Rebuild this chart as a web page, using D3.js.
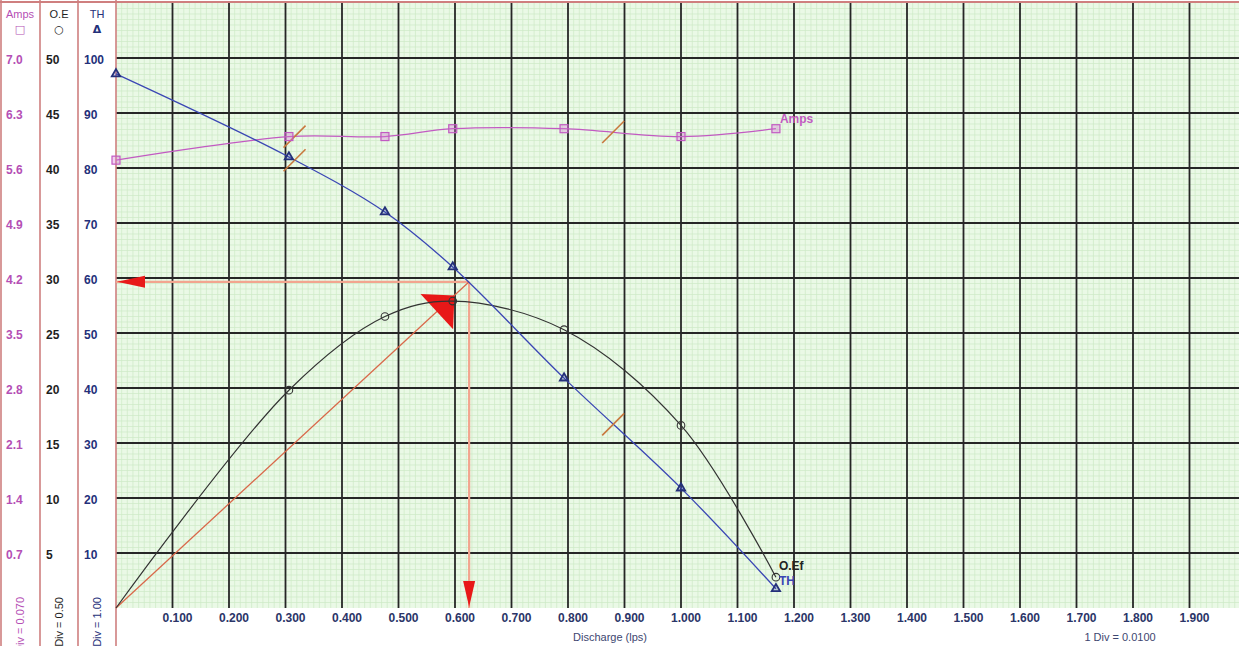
<!DOCTYPE html>
<html>
<head>
<meta charset="utf-8">
<script src="https://cdn.jsdelivr.net/npm/d3@7"></script>
<style>
  html, body { margin: 0; padding: 0; background: #fff; }
  svg { display: block; font-family: "Liberation Sans", Arial, sans-serif; }
</style>
</head>
<body>
<svg id="chart" width="1239" height="646"></svg>
<script>
// Pump performance test: discharge vs total head, overall efficiency and current
const discharge = [0, 0.306, 0.476, 0.596, 0.793, 1.000, 1.168];   // lps
const totalHead = [97.1, 82.0, 72.0, 62.0, 41.8, 21.8, 3.5];         // TH (m)
const overallEff = [0, 19.8, 26.5, 27.9, 25.3, 16.6, 2.8];           // O.E (%)
const amps = [5.70, 6.00, 6.00, 6.10, 6.10, 6.00, 6.10];             // current (A)

// Duty point
const dutyQ = 0.625;
const dutyTH = 59.3;

// Recommended operating range limits (discharge)
const rangeQ = [0.316, 0.880];

const xTicks = [0.1, 0.2, 0.3, 0.4, 0.5, 0.6, 0.7, 0.8, 0.9, 1.0, 1.1, 1.2, 1.3, 1.4, 1.5, 1.6, 1.7, 1.8, 1.9];
const thTicks = [10, 20, 30, 40, 50, 60, 70, 80, 90, 100];
const oeTicks = [5, 10, 15, 20, 25, 30, 35, 40, 45, 50];
const ampTicks = [0.7, 1.4, 2.1, 2.8, 3.5, 4.2, 4.9, 5.6, 6.3, 7.0];

const W = 1239, H = 646;
const plotL = 116, plotT = 3, plotB = 608;

const C = {
  bg: "#eaf9e6", minor: "#cde9c6", major: "#262626",
  frame: "#cf7f7f", th: "#3a46b4", thText: "#24307a", oe: "#333333",
  amp: "#c25ac2", ampText: "#b54fb5", red: "#e81818", guide: "#f2a58f",
  diag: "#d9684a", slash: "#c8783e", axisText: "#2b3568"
};

const svg = d3.select("#chart");

const x = d3.scaleLinear().domain([0, 2]).range([plotL, plotL + 1130]);
const yTH = d3.scaleLinear().domain([0, 110]).range([plotB, plotT]);
const yOE = d3.scaleLinear().domain([0, 55]).range([plotB, plotT]);
const yAmp = d3.scaleLinear().domain([0, 7.7]).range([plotB, plotT]);

const xMax = x.invert(W);

// ---------- plot background & grid ----------
svg.append("rect").attr("x", plotL).attr("y", plotT)
  .attr("width", W - plotL).attr("height", plotB - plotT).attr("fill", C.bg);

const gGrid = svg.append("g");
const minorX = d3.range(1, Math.floor(xMax * 100) + 1).map(d => d / 100).filter(d => Math.round(d * 100) % 10 !== 0);
const minorY = d3.range(1, 110).filter(d => d % 10 !== 0);
gGrid.selectAll(".mx").data(minorX).join("line")
  .attr("x1", d => x(d)).attr("x2", d => x(d))
  .attr("y1", plotT).attr("y2", plotB)
  .attr("stroke", C.minor).attr("stroke-width", 0.7);
gGrid.selectAll(".my").data(minorY).join("line")
  .attr("x1", plotL).attr("x2", W)
  .attr("y1", d => yTH(d)).attr("y2", d => yTH(d))
  .attr("stroke", C.minor).attr("stroke-width", 0.7);

gGrid.selectAll(".Mx").data(xTicks).join("line")
  .attr("x1", d => x(d)).attr("x2", d => x(d))
  .attr("y1", plotT).attr("y2", plotB)
  .attr("stroke", C.major).attr("stroke-width", 1.8);
gGrid.selectAll(".My").data(thTicks).join("line")
  .attr("x1", plotL).attr("x2", W)
  .attr("y1", d => yTH(d)).attr("y2", d => yTH(d))
  .attr("stroke", C.major).attr("stroke-width", 1.8);

// ---------- left scale panel ----------
const cols = [
  { x0: 0, x1: 40, head: "Amps", sym: "\u25A1", ticks: ampTicks, fmt: d3.format(".1f"), color: C.ampText, div: "1 Div = 0.070", scale: yAmp },
  { x0: 40, x1: 78, head: "O.E", sym: "\u25CB", ticks: oeTicks, fmt: d3.format("d"), color: "#1e1e1e", div: "1 Div = 0.50", scale: yOE },
  { x0: 78, x1: 116, head: "TH", sym: "\u0394", ticks: thTicks, fmt: d3.format("d"), color: C.thText, div: "1 Div = 1.00", scale: yTH }
];

const gPanel = svg.append("g");
cols.forEach(c => {
  const cx = (c.x0 + c.x1) / 2;
  gPanel.append("text").attr("x", cx).attr("y", 18).attr("text-anchor", "middle")
    .attr("font-size", 11).attr("fill", c.color).text(c.head);
  gPanel.append("text").attr("x", cx).attr("y", 33).attr("text-anchor", "middle")
    .attr("font-family", "DejaVu Sans, sans-serif")
    .attr("font-size", 11).attr("font-weight", "bold").attr("fill", c.color).text(c.sym);
  gPanel.selectAll(null).data(c.ticks).join("text")
    .attr("x", c.x0 + 6).attr("y", d => c.scale(d) + 6)
    .attr("font-size", 12).attr("font-weight", "bold").attr("fill", c.color)
    .text(d => c.fmt(d));
  gPanel.append("text")
    .attr("transform", `translate(${cx + 4},597) rotate(-90)`)
    .attr("text-anchor", "end")
    .attr("font-size", 11).attr("fill", c.color).text(c.div);
});
[1, 40, 78, 116].forEach(v => {
  gPanel.append("line").attr("x1", v).attr("x2", v).attr("y1", 0).attr("y2", H)
    .attr("stroke", C.frame).attr("stroke-width", 1.6);
});
svg.append("line").attr("x1", 0).attr("x2", W).attr("y1", 2).attr("y2", 2)
  .attr("stroke", C.frame).attr("stroke-width", 2);

// ---------- x axis labels ----------
const gX = svg.append("g");
gX.selectAll("text").data(xTicks).join("text")
  .attr("x", d => x(d) + 5).attr("y", 622).attr("text-anchor", "middle")
  .attr("font-size", 12).attr("font-weight", "bold").attr("fill", C.axisText)
  .text(d => d3.format(".3f")(d));
svg.append("text").attr("x", 610).attr("y", 641).attr("text-anchor", "middle")
  .attr("font-size", 11).attr("fill", "#3d4670").text("Discharge (lps)");
svg.append("text").attr("x", 1120).attr("y", 641).attr("text-anchor", "middle")
  .attr("font-size", 11).attr("fill", "#3d4670").text("1 Div = 0.0100");

// ---------- duty point construction ----------
const gDuty = svg.append("g");
const dX = x(dutyQ), dY = yTH(dutyTH);
const oX = x(0), oY = yTH(0);
gDuty.append("line").attr("x1", dX).attr("y1", dY).attr("x2", plotL).attr("y2", dY)
  .attr("stroke", C.guide).attr("stroke-width", 2.2);
gDuty.append("line").attr("x1", dX).attr("y1", dY).attr("x2", dX).attr("y2", plotB)
  .attr("stroke", C.guide).attr("stroke-width", 2.2);
gDuty.append("line").attr("x1", oX).attr("y1", oY).attr("x2", dX).attr("y2", dY)
  .attr("stroke", C.diag).attr("stroke-width", 1.3);

function arrowHead(tipX, tipY, dirX, dirY, len, half) {
  const n = Math.hypot(dirX, dirY), ux = dirX / n, uy = dirY / n;
  const bx = tipX - ux * len, by = tipY - uy * len;
  return [[tipX, tipY], [bx - uy * half, by + ux * half], [bx + uy * half, by - ux * half]];
}
const heads = [
  arrowHead(plotL + 1, dY, -1, 0, 28, 6),
  arrowHead(dX, plotB - 1, 0, 1, 26, 6)
];
// large head on the system line, stopping short of the duty point
const dLen = Math.hypot(dX - oX, dY - oY);
const tipT = (dLen - 20) / dLen;
heads.push(arrowHead(oX + (dX - oX) * tipT, oY + (dY - oY) * tipT, dX - oX, dY - oY, 24, 24));
gDuty.selectAll("polygon").data(heads).join("polygon")
  .attr("points", d => d.map(p => p.join(",")).join(" "))
  .attr("fill", C.red);

// ---------- curves ----------
const gCurves = svg.append("g");
const pts = (ys) => discharge.map((q, i) => [q, ys[i]]);
const lineFor = (ys) => d3.line().x(d => x(d[0])).y(d => ys(d[1])).curve(d3.curveCatmullRom.alpha(0.5));

gCurves.append("path").datum(pts(amps)).attr("d", lineFor(yAmp))
  .attr("fill", "none").attr("stroke", C.amp).attr("stroke-width", 1.3);
gCurves.append("path").datum(pts(overallEff)).attr("d", lineFor(yOE))
  .attr("fill", "none").attr("stroke", C.oe).attr("stroke-width", 1.2);
gCurves.append("path").datum(pts(totalHead)).attr("d", lineFor(yTH))
  .attr("fill", "none").attr("stroke", C.th).attr("stroke-width", 1.3);

// operating range slashes on head and current curves
const interp = (arr, q) => {
  const i = Math.max(1, d3.bisectRight(discharge, q));
  const t = (q - discharge[i - 1]) / (discharge[i] - discharge[i - 1]);
  return arr[i - 1] + t * (arr[i] - arr[i - 1]);
};
const slashes = [];
rangeQ.forEach(q => {
  slashes.push([x(q), yTH(interp(totalHead, q))]);
  slashes.push([x(q), yAmp(interp(amps, q))]);
});
gCurves.selectAll(".slash").data(slashes).join("line")
  .attr("x1", d => d[0] - 11).attr("y1", d => d[1] + 11)
  .attr("x2", d => d[0] + 11).attr("y2", d => d[1] - 11)
  .attr("stroke", C.slash).attr("stroke-width", 1.6);

// markers
gCurves.selectAll(".sq").data(pts(amps)).join("rect")
  .attr("x", d => x(d[0]) - 4).attr("y", d => yAmp(d[1]) - 4)
  .attr("width", 8).attr("height", 8)
  .attr("fill", "rgba(214,120,214,0.35)").attr("stroke", C.amp).attr("stroke-width", 1.2);
gCurves.selectAll(".ci").data(pts(overallEff).slice(1)).join("circle")
  .attr("cx", d => x(d[0])).attr("cy", d => yOE(d[1])).attr("r", 3.8)
  .attr("fill", "none").attr("stroke", C.oe).attr("stroke-width", 1.1);
const tri = d3.symbol().type(d3.symbolTriangle).size(30);
gCurves.selectAll(".tr").data(pts(totalHead)).join("path")
  .attr("transform", d => `translate(${x(d[0])},${yTH(d[1])})`)
  .attr("d", tri).attr("fill", "rgba(58,70,180,0.25)").attr("stroke", C.thText).attr("stroke-width", 1.8);

// curve labels at the last point
const last = discharge.length - 1;
svg.append("text").attr("x", x(discharge[last]) + 4).attr("y", yAmp(amps[last]) - 6)
  .attr("font-size", 12).attr("font-weight", "bold").attr("fill", C.amp).text("Amps");
svg.append("text").attr("x", x(discharge[last]) + 3).attr("y", yOE(overallEff[last]) - 7)
  .attr("font-size", 12).attr("font-weight", "bold").attr("fill", "#222").text("O.Ef");
svg.append("text").attr("x", x(discharge[last]) + 3).attr("y", yTH(totalHead[last]) - 4)
  .attr("font-size", 12).attr("font-weight", "bold").attr("fill", C.th).text("TH");
</script>
</body>
</html>
